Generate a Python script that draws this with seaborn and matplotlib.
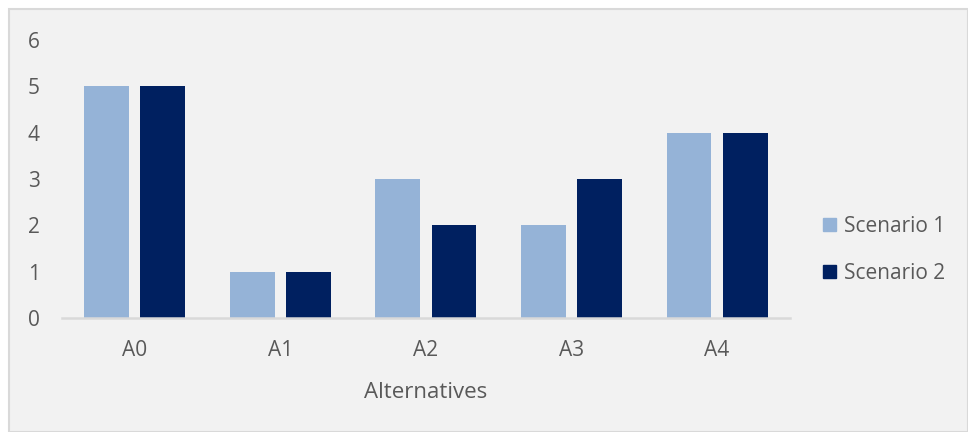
import matplotlib
matplotlib.use("Agg")
import matplotlib.pyplot as plt
import matplotlib.patches as mpatches
import seaborn as sns
import pandas as pd

# Datos del gráfico
alternatives = ["A0", "A1", "A2", "A3", "A4"]
scenario_1 = [5, 1, 3, 2, 4]
scenario_2 = [5, 1, 2, 3, 4]
series_names = ["Scenario 1", "Scenario 2"]
colors = ["#95B3D7", "#002060"]

df = pd.DataFrame({
    "Alternatives": alternatives * 2,
    "Value": scenario_1 + scenario_2,
    "Scenario": [series_names[0]] * 5 + [series_names[1]] * 5,
})

sns.set_theme(style="white")
plt.rcParams["font.family"] = ["Open Sans", "DejaVu Sans"]

text_color = "#595959"
bg = "#F2F2F2"

fig = plt.figure(figsize=(9.68, 4.32), dpi=100)
fig.patch.set_facecolor("white")
# fondo gris con borde, como en Excel
fig.patches.append(mpatches.Rectangle((9 / 968, 0), 1 - 9 / 968, 1 - 9 / 432,
                                      transform=fig.transFigure, facecolor=bg,
                                      edgecolor="#D9D9D9", linewidth=1.5, zorder=-10))

ax = fig.add_axes([0.064, 0.264, 0.752, 0.643])
ax.patch.set_alpha(0)
sns.barplot(data=df, x="Alternatives", y="Value", hue="Scenario",
            palette=colors, saturation=1, width=0.77, gap=0.2,
            linewidth=0, ax=ax, legend=False)

ax.set_ylim(0, 6)
ax.set_yticks(range(7))
ax.set_xlim(-0.5, 4.5)
for side in ["top", "right", "left"]:
    ax.spines[side].set_visible(False)
ax.spines["bottom"].set_color("#D9D9D9")
ax.spines["bottom"].set_linewidth(1.8)
ax.tick_params(axis="both", length=0, labelsize=15, labelcolor=text_color)
ax.tick_params(axis="y", pad=16)
ax.tick_params(axis="x", pad=16)
ax.set_ylabel("")
ax.set_xlabel("Alternatives", fontsize=16, color=text_color, labelpad=15)

handles = [mpatches.Patch(color=c, label=n) for c, n in zip(colors, series_names)]
ax.legend(handles=handles, loc="center left", bbox_to_anchor=(1.02, 0.245),
          frameon=False, fontsize=15, labelcolor=text_color,
          handlelength=0.6, handleheight=0.6, handletextpad=0.4, labelspacing=1.25)

fig.savefig("out.png", dpi=100, facecolor=fig.get_facecolor())
